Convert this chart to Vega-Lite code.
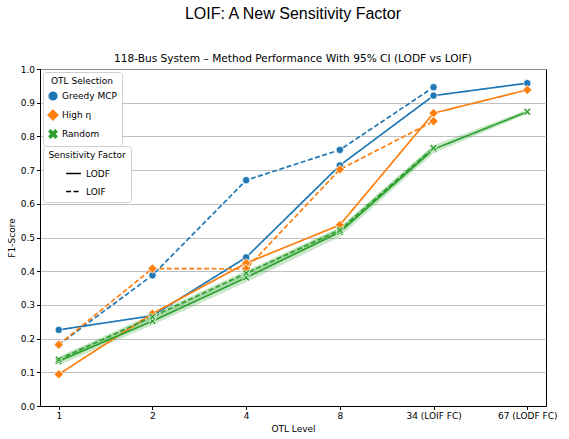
{
  "$schema": "https://vega.github.io/schema/vega-lite/v6.json",
  "width": 506,
  "height": 337,
  "padding": {"left": 7, "top": 6, "right": 17, "bottom": 4},
  "background": "white",
  "title": {
    "text": "LOIF: A New Sensitivity Factor",
    "subtitle": "118-Bus System – Method Performance With 95% CI (LODF vs LOIF)",
    "anchor": "middle",
    "font": "Liberation Sans",
    "fontSize": 16,
    "fontWeight": "normal",
    "color": "#000000",
    "subtitleFont": "DejaVu Sans",
    "subtitleFontSize": 10.6,
    "subtitleColor": "#000000",
    "subtitlePadding": 32,
    "offset": 0
  },
  "data": {
    "values": [
      {"method": "Greedy MCP", "factor": "LODF", "level": "1", "f1": 0.226, "lo": 0.226, "hi": 0.226},
      {"method": "Greedy MCP", "factor": "LODF", "level": "2", "f1": 0.268, "lo": 0.268, "hi": 0.268},
      {"method": "Greedy MCP", "factor": "LODF", "level": "4", "f1": 0.441, "lo": 0.441, "hi": 0.441},
      {"method": "Greedy MCP", "factor": "LODF", "level": "8", "f1": 0.714, "lo": 0.714, "hi": 0.714},
      {"method": "Greedy MCP", "factor": "LODF", "level": "34 (LOIF FC)", "f1": 0.921, "lo": 0.921, "hi": 0.921},
      {"method": "Greedy MCP", "factor": "LODF", "level": "67 (LODF FC)", "f1": 0.958, "lo": 0.958, "hi": 0.958},
      {"method": "Greedy MCP", "factor": "LOIF", "level": "1", "f1": 0.182, "lo": 0.182, "hi": 0.182},
      {"method": "Greedy MCP", "factor": "LOIF", "level": "2", "f1": 0.388, "lo": 0.388, "hi": 0.388},
      {"method": "Greedy MCP", "factor": "LOIF", "level": "4", "f1": 0.670, "lo": 0.670, "hi": 0.670},
      {"method": "Greedy MCP", "factor": "LOIF", "level": "8", "f1": 0.760, "lo": 0.760, "hi": 0.760},
      {"method": "Greedy MCP", "factor": "LOIF", "level": "34 (LOIF FC)", "f1": 0.946, "lo": 0.946, "hi": 0.946},
      {"method": "High η", "factor": "LODF", "level": "1", "f1": 0.094, "lo": 0.094, "hi": 0.094},
      {"method": "High η", "factor": "LODF", "level": "2", "f1": 0.274, "lo": 0.274, "hi": 0.274},
      {"method": "High η", "factor": "LODF", "level": "4", "f1": 0.424, "lo": 0.424, "hi": 0.424},
      {"method": "High η", "factor": "LODF", "level": "8", "f1": 0.537, "lo": 0.537, "hi": 0.537},
      {"method": "High η", "factor": "LODF", "level": "34 (LOIF FC)", "f1": 0.869, "lo": 0.869, "hi": 0.869},
      {"method": "High η", "factor": "LODF", "level": "67 (LODF FC)", "f1": 0.938, "lo": 0.938, "hi": 0.938},
      {"method": "High η", "factor": "LOIF", "level": "1", "f1": 0.182, "lo": 0.182, "hi": 0.182},
      {"method": "High η", "factor": "LOIF", "level": "2", "f1": 0.408, "lo": 0.408, "hi": 0.408},
      {"method": "High η", "factor": "LOIF", "level": "4", "f1": 0.407, "lo": 0.407, "hi": 0.407},
      {"method": "High η", "factor": "LOIF", "level": "8", "f1": 0.702, "lo": 0.702, "hi": 0.702},
      {"method": "High η", "factor": "LOIF", "level": "34 (LOIF FC)", "f1": 0.845, "lo": 0.845, "hi": 0.845},
      {"method": "Random", "factor": "LODF", "level": "1", "f1": 0.133, "lo": 0.121, "hi": 0.145},
      {"method": "Random", "factor": "LODF", "level": "2", "f1": 0.252, "lo": 0.240, "hi": 0.264},
      {"method": "Random", "factor": "LODF", "level": "4", "f1": 0.381, "lo": 0.367, "hi": 0.395},
      {"method": "Random", "factor": "LODF", "level": "8", "f1": 0.516, "lo": 0.502, "hi": 0.530},
      {"method": "Random", "factor": "LODF", "level": "34 (LOIF FC)", "f1": 0.762, "lo": 0.750, "hi": 0.774},
      {"method": "Random", "factor": "LODF", "level": "67 (LODF FC)", "f1": 0.873, "lo": 0.867, "hi": 0.879},
      {"method": "Random", "factor": "LOIF", "level": "1", "f1": 0.138, "lo": 0.130, "hi": 0.146},
      {"method": "Random", "factor": "LOIF", "level": "2", "f1": 0.265, "lo": 0.257, "hi": 0.273},
      {"method": "Random", "factor": "LOIF", "level": "4", "f1": 0.394, "lo": 0.386, "hi": 0.402},
      {"method": "Random", "factor": "LOIF", "level": "8", "f1": 0.522, "lo": 0.514, "hi": 0.530},
      {"method": "Random", "factor": "LOIF", "level": "34 (LOIF FC)", "f1": 0.766, "lo": 0.758, "hi": 0.774}
    ]
  },
  "encoding": {
    "x": {
      "field": "level",
      "type": "ordinal",
      "sort": ["1", "2", "4", "8", "34 (LOIF FC)", "67 (LODF FC)"],
      "scale": {"type": "point", "padding": 0.2},
      "axis": {"title": "OTL Level", "labelAngle": 0, "grid": false}
    },
    "color": {
      "field": "method",
      "type": "nominal",
      "scale": {"domain": ["Greedy MCP", "High η", "Random"], "range": ["#1f77b4", "#ff7f0e", "#2ca02c"]},
      "legend": {"title": "OTL Selection", "orient": "top-left", "symbolOpacity": 1, "symbolSize": 60}
    }
  },
  "layer": [
    {
      "transform": [{"filter": "datum.method === 'Random'"}],
      "mark": {"type": "area", "opacity": 0.25},
      "encoding": {
        "y": {
          "field": "lo",
          "type": "quantitative",
          "scale": {"domain": [0, 1], "nice": false},
          "axis": {"title": "F1-Score", "values": [0, 0.1, 0.2, 0.3, 0.4, 0.5, 0.6, 0.7, 0.8, 0.9, 1.0], "format": ".1f", "grid": true, "labelOverlap": false}
        },
        "y2": {"field": "hi"},
        "detail": {"field": "factor"}
      }
    },
    {
      "mark": {"type": "line", "strokeWidth": 1.7},
      "encoding": {
        "y": {
          "field": "f1",
          "type": "quantitative",
          "scale": {"domain": [0, 1], "nice": false},
          "axis": {"title": "F1-Score", "values": [0, 0.1, 0.2, 0.3, 0.4, 0.5, 0.6, 0.7, 0.8, 0.9, 1.0], "format": ".1f", "grid": true, "labelOverlap": false}
        },
        "strokeDash": {
          "field": "factor",
          "type": "nominal",
          "scale": {"domain": ["LODF", "LOIF"], "range": [[1, 0], [5, 2.5]]},
          "legend": {"title": "Sensitivity Factor", "orient": "top-left", "symbolStrokeColor": "black", "symbolStrokeWidth": 1.7, "symbolSize": 220, "symbolOpacity": 1}
        }
      }
    },
    {
      "mark": {"type": "point", "filled": true, "opacity": 1, "size": 55, "stroke": "white", "strokeWidth": 0.8},
      "encoding": {
        "y": {
          "field": "f1",
          "type": "quantitative",
          "scale": {"domain": [0, 1], "nice": false},
          "axis": {"title": "F1-Score", "values": [0, 0.1, 0.2, 0.3, 0.4, 0.5, 0.6, 0.7, 0.8, 0.9, 1.0], "format": ".1f", "grid": true, "labelOverlap": false}
        },
        "shape": {
          "field": "method",
          "type": "nominal",
          "scale": {"domain": ["Greedy MCP", "High η", "Random"], "range": ["circle", "M0,-1.25L1.25,0L0,1.25L-1.25,0Z", "M-1,-0.6L-0.6,-1L0,-0.4L0.6,-1L1,-0.6L0.4,0L1,0.6L0.6,1L0,0.4L-0.6,1L-1,0.6L-0.4,0Z"]},
          "legend": {"title": "OTL Selection", "orient": "top-left", "symbolOpacity": 1, "symbolSize": 60}
        },
        "detail": {"field": "factor"}
      }
    }
  ],
  "config": {
    "font": "DejaVu Sans",
    "view": {"stroke": "black", "strokeWidth": 1},
    "axis": {
      "labelFont": "DejaVu Sans",
      "labelFontSize": 9,
      "labelColor": "#000000",
      "titleFont": "DejaVu Sans",
      "titleFontSize": 9,
      "titleFontWeight": "normal",
      "titleColor": "#000000",
      "domainColor": "black",
      "tickColor": "black",
      "tickSize": 3.5,
      "labelPadding": 2,
      "titlePadding": 4,
      "gridColor": "#b0b0b0",
      "gridWidth": 0.8
    },
    "legend": {
      "labelFont": "DejaVu Sans",
      "labelFontSize": 9,
      "labelColor": "#000000",
      "titleFont": "DejaVu Sans",
      "titleFontSize": 9,
      "titleFontWeight": "normal",
      "titleColor": "#000000",
      "strokeColor": "#d0d0d0",
      "fillColor": "white",
      "padding": 5,
      "cornerRadius": 3,
      "offset": 3,
      "rowPadding": 4,
      "titleAnchor": "middle",
      "layout": {"top-left": {"direction": "vertical", "margin": 0}}
    }
  }
}
